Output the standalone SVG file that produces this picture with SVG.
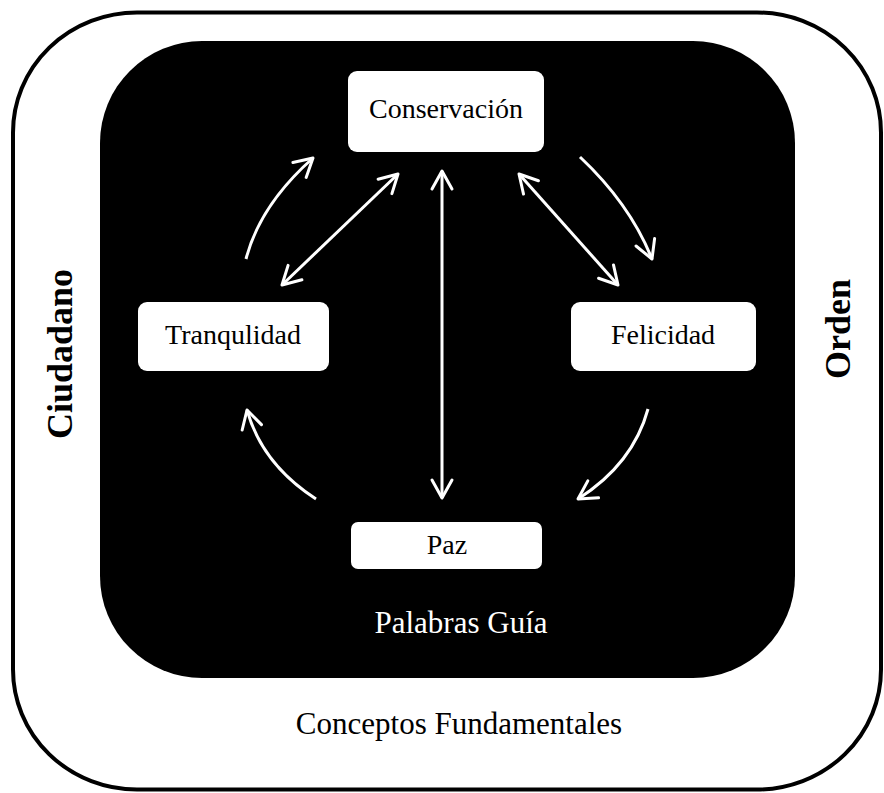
<svg xmlns="http://www.w3.org/2000/svg" width="884" height="793" viewBox="0 0 884 793">
  <style>
    text { font-family: 'Liberation Serif', 'Times New Roman', Times, 'DejaVu Serif', 'Noto Serif', serif; }
    .box { fill: #ffffff; }
    .lbl { font-size: 28px; fill: #000000; text-anchor: middle; }
    .big { font-size: 31px; text-anchor: middle; }
    .side { font-size: 36px; font-weight: bold; fill: #000000; text-anchor: middle; }
    .conn { fill: none; stroke: #ffffff; stroke-width: 3; }
  </style>
  <defs>
    <marker id="arr" markerUnits="userSpaceOnUse" markerWidth="26" markerHeight="26" viewBox="-22 -13 26 26" refX="0" refY="0" orient="auto-start-reverse">
      <path d="M-18,-10 L0,0 L-18,10" fill="none" stroke="#ffffff" stroke-width="3" stroke-linecap="round" stroke-linejoin="round"/>
    </marker>
  </defs>
  <rect width="884" height="793" fill="#ffffff"/>
  <g id="outer">
    <rect x="13" y="12.5" width="868" height="777" rx="124" ry="120" fill="#ffffff" stroke="#000000" stroke-width="4"/>
    <text class="big" x="459" y="734" fill="#000000" font-family="Liberation Serif, serif">Conceptos Fundamentales</text>
    <text class="side" transform="translate(72,354) rotate(-90)" font-family="Liberation Serif, serif">Ciudadano</text>
    <text class="side" transform="translate(850,329) rotate(-90)" font-family="Liberation Serif, serif">Orden</text>
  </g>
  <g id="inner">
    <rect x="100" y="41" width="695" height="637" rx="102" ry="102" fill="#000000"/>
    <text class="big" x="461" y="633" fill="#ffffff" font-family="Liberation Serif, serif">Palabras Guía</text>
  </g>
  <g id="conservacion">
    <rect class="box" x="348" y="71" width="196" height="81" rx="9"/>
    <text class="lbl" x="446" y="118" font-family="Liberation Serif, serif">Conservación</text>
  </g>
  <g id="tranquilidad">
    <rect class="box" x="138" y="302" width="191" height="69" rx="9"/>
    <text class="lbl" x="233" y="344" font-family="Liberation Serif, serif">Tranqulidad</text>
  </g>
  <g id="felicidad">
    <rect class="box" x="571" y="302" width="185" height="69" rx="9"/>
    <text class="lbl" x="663" y="344" font-family="Liberation Serif, serif">Felicidad</text>
  </g>
  <g id="paz">
    <rect class="box" x="351" y="522" width="191" height="47" rx="7"/>
    <text class="lbl" x="447" y="554" font-family="Liberation Serif, serif">Paz</text>
  </g>
  <g id="connectors">
    <path class="conn" d="M246,259 Q260,205 313,158" marker-end="url(#arr)"/>
    <path class="conn" d="M282,285 L398,174" marker-start="url(#arr)" marker-end="url(#arr)"/>
    <path class="conn" d="M442,171 L442,498" marker-start="url(#arr)" marker-end="url(#arr)"/>
    <path class="conn" d="M519,174 L618,285" marker-start="url(#arr)" marker-end="url(#arr)"/>
    <path class="conn" d="M580,157 Q630,204 652,259" marker-end="url(#arr)"/>
    <path class="conn" d="M648,409 Q633,464 578,499" marker-end="url(#arr)"/>
    <path class="conn" d="M316,499 Q262,464 247,410" marker-end="url(#arr)"/>
  </g>
</svg>
